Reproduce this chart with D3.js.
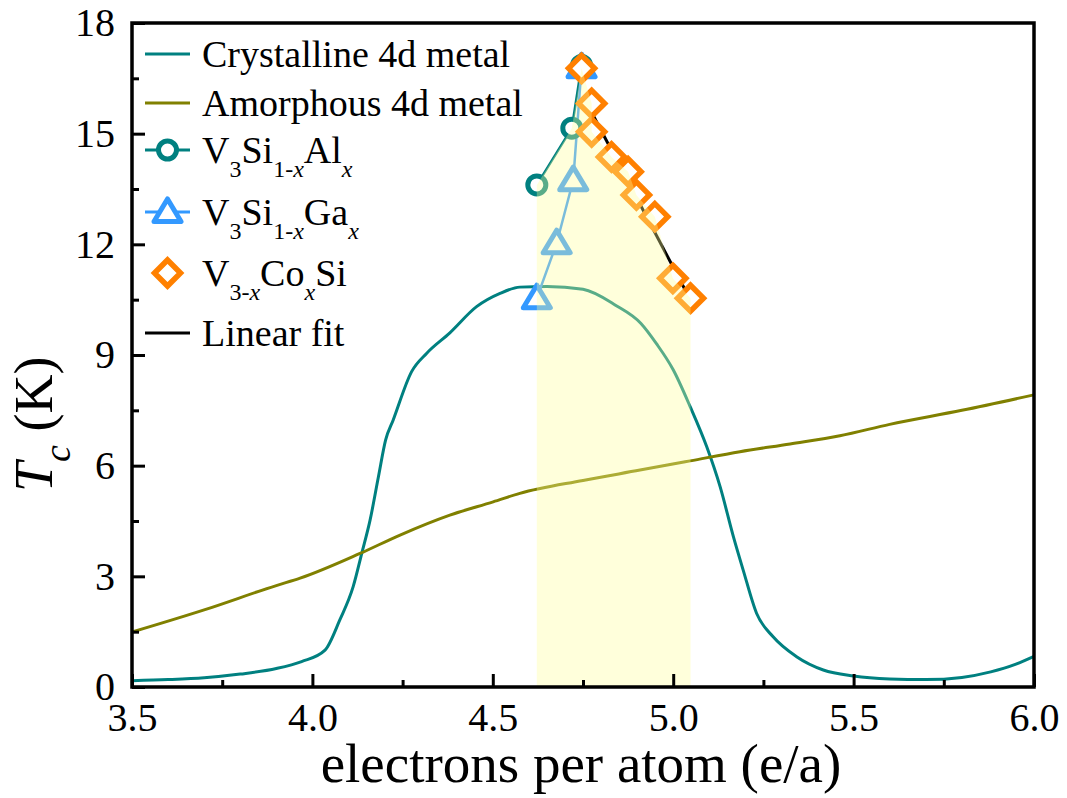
<!DOCTYPE html>
<html>
<head>
<meta charset="utf-8">
<script src="https://cdn.jsdelivr.net/npm/d3@7"></script>
<style>
  body { margin: 0; background: #fff; }
  svg text { font-family: "Liberation Serif", "Times New Roman", serif; fill: #000; }
</style>
</head>
<body>
<div id="chart"></div>
<script>
// crystalline 4d metal curve
var crystX = [3.5, 3.6, 3.7, 3.8, 3.9, 3.97, 4.035, 4.076, 4.113, 4.137, 4.16, 4.183, 4.203, 4.224, 4.275, 4.317, 4.381, 4.455, 4.52, 4.575, 4.65, 4.75, 4.84, 4.91, 4.954, 5.0, 5.047, 5.093, 5.13, 5.167, 5.194, 5.231, 5.277, 5.342, 5.416, 5.5, 5.6, 5.7, 5.8, 5.88, 5.95, 6.0];
var crystTc = [0.17, 0.2, 0.25, 0.35, 0.5, 0.69, 1.0, 1.82, 2.72, 3.63, 4.53, 5.7, 6.7, 7.24, 8.55, 9.05, 9.6, 10.31, 10.67, 10.84, 10.86, 10.78, 10.35, 9.86, 9.3, 8.6, 7.6, 6.51, 5.43, 4.07, 3.17, 2.0, 1.36, 0.82, 0.46, 0.3, 0.22, 0.2, 0.26, 0.41, 0.62, 0.83];

// amorphous 4d metal curve
var amorX = [3.5, 3.7, 3.9, 3.966, 4.132, 4.243, 4.381, 4.501, 4.575, 4.75, 4.908, 5.047, 5.185, 5.324, 5.462, 5.6, 5.8, 6.0];
var amorTc = [1.49, 2.09, 2.75, 2.95, 3.62, 4.12, 4.66, 5.02, 5.25, 5.6, 5.88, 6.13, 6.38, 6.59, 6.81, 7.12, 7.5, 7.92];

// V3Si(1-x)Al(x)
var alX = [4.622, 4.719, 4.746];
var alTc = [13.61, 15.15, 16.85];

// V3Si(1-x)Ga(x)
var gaX = [4.622, 4.677, 4.723, 4.746];
var gaTc = [10.54, 12.03, 13.74, 16.8];

// V(3-x)Co(x)Si
var coX = [4.746, 4.774, 4.774, 4.829, 4.875, 4.898, 4.949, 4.999, 5.048];
var coTc = [16.77, 15.82, 15.05, 14.37, 13.97, 13.34, 12.75, 11.08, 10.54];

// linear fit through the Co series
var fitX = [4.77, 5.05];
var fitTc = [15.65, 10.45];

var xTicks = [3.5, 4.0, 4.5, 5.0, 5.5, 6.0];
var xMinor = [3.75, 4.25, 4.75, 5.25, 5.75];
var yTicks = [0, 3, 6, 9, 12, 15, 18];
var yMinor = [1.5, 4.5, 7.5, 10.5, 13.5, 16.5];

var width = 1067, height = 798;
var margin = {left: 132, right: 33, top: 23, bottom: 111};
var pw = width - margin.left - margin.right,
    ph = height - margin.top - margin.bottom;

var teal = '#008080', olive = '#808000', blue = '#3399ff', orange = '#ff8000';
var serif = '"Liberation Serif", "Times New Roman", serif';

var svg = d3.select('#chart').append('svg')
  .attr('width', width)
  .attr('height', height);

var g = svg.append('g').attr('transform', 'translate(' + margin.left + ',' + margin.top + ')');

var x = d3.scaleLinear().domain([3.5, 6.0]).range([0, pw]);
var y = d3.scaleLinear().domain([0, 18]).range([ph, 0]);

function pairs(xs, ys) {
  return xs.map(function(v, i) { return [v, ys[i]]; });
}

var line = d3.line()
  .x(function(d) { return x(d[0]); })
  .y(function(d) { return y(d[1]); });

var smooth = d3.line()
  .x(function(d) { return x(d[0]); })
  .y(function(d) { return y(d[1]); })
  .curve(d3.curveMonotoneX);

var plot = g.append('g');

plot.append('path').datum(pairs(crystX, crystTc))
  .attr('d', smooth).attr('fill', 'none').attr('stroke', teal).attr('stroke-width', 3);
plot.append('path').datum(pairs(amorX, amorTc))
  .attr('d', smooth).attr('fill', 'none').attr('stroke', olive).attr('stroke-width', 3);

plot.append('path').datum(pairs(fitX, fitTc))
  .attr('d', line).attr('fill', 'none').attr('stroke', '#000').attr('stroke-width', 3);
plot.append('path').datum(pairs(alX, alTc))
  .attr('d', line).attr('fill', 'none').attr('stroke', teal).attr('stroke-width', 2.5);
plot.append('path').datum(pairs(gaX, gaTc))
  .attr('d', line).attr('fill', 'none').attr('stroke', blue).attr('stroke-width', 2.5);

var triPath = 'M0,-13L13.5,9.5L-13.5,9.5Z';
var diaPath = 'M0,-13L13,0L0,13L-13,0Z';

plot.selectAll('.tri').data(pairs(gaX, gaTc)).enter().append('path')
  .attr('transform', function(d) { return 'translate(' + x(d[0]) + ',' + y(d[1]) + ')'; })
  .attr('d', triPath).attr('fill', '#fff').attr('stroke', blue)
  .attr('stroke-width', 5).attr('stroke-linejoin', 'round');

plot.selectAll('.circ').data(pairs(alX, alTc)).enter().append('circle')
  .attr('cx', function(d) { return x(d[0]); })
  .attr('cy', function(d) { return y(d[1]); })
  .attr('r', 9).attr('fill', '#fff').attr('stroke', teal).attr('stroke-width', 5);

plot.selectAll('.dia').data(pairs(coX, coTc)).enter().append('path')
  .attr('transform', function(d) { return 'translate(' + x(d[0]) + ',' + y(d[1]) + ')'; })
  .attr('d', diaPath).attr('fill', '#fff').attr('stroke', orange)
  .attr('stroke-width', 5.5);

// shaded region under the data envelope, drawn on top
var shade = [[alX[0], 0]].concat(pairs(alX.slice(0, 2), alTc.slice(0, 2)))
  .concat(pairs(coX, coTc)).concat([[coX[coX.length - 1], 0]]);
plot.append('path').datum(shade)
  .attr('d', function(d) { return line(d) + 'Z'; })
  .attr('fill', '#ffff99').attr('fill-opacity', 0.35).attr('stroke', 'none');

// axes
var xAxis = d3.axisBottom(x).tickValues(xTicks).tickFormat(d3.format('.1f'))
  .tickSizeInner(-13).tickSizeOuter(0).tickPadding(16);
var xAxisMinor = d3.axisBottom(x).tickValues(xMinor).tickFormat('')
  .tickSizeInner(-7).tickSizeOuter(0);
var yAxis = d3.axisLeft(y).tickValues(yTicks).tickFormat(d3.format('d'))
  .tickSizeInner(-13).tickSizeOuter(0).tickPadding(17);
var yAxisMinor = d3.axisLeft(y).tickValues(yMinor).tickFormat('')
  .tickSizeInner(-7).tickSizeOuter(0);

function styleAxis(ax, minor) {
  ax.attr('font-family', null);
  ax.select('.domain').remove();
  ax.selectAll('line').attr('stroke', '#000').attr('stroke-width', 3);
  if (minor) ax.selectAll('text').remove();
  ax.selectAll('text').attr('font-size', 40).style('font-family', serif).attr('fill', '#000');
}

styleAxis(g.append('g').attr('transform', 'translate(0,' + ph + ')').call(xAxis), false);
styleAxis(g.append('g').attr('transform', 'translate(0,' + ph + ')').call(xAxisMinor), true);
styleAxis(g.append('g').call(yAxis), false);
styleAxis(g.append('g').call(yAxisMinor), true);

g.append('rect')
  .attr('x', 0).attr('y', 0).attr('width', pw).attr('height', ph)
  .attr('fill', 'none').attr('stroke', '#000').attr('stroke-width', 3.5);

// axis titles
svg.append('text')
  .attr('x', margin.left + pw / 2 - 2).attr('y', 782)
  .attr('text-anchor', 'middle').attr('font-size', 55)
  .text('electrons per atom (e/a)');

var yt = svg.append('text')
  .attr('transform', 'translate(52,492) rotate(-90)')
  .attr('font-size', 54);
yt.append('tspan').attr('font-style', 'italic').text('T');
yt.append('tspan').attr('font-style', 'italic').attr('font-size', 38).attr('dy', 18).text('c');
yt.append('tspan').attr('dy', -18).text(' (K)');

// legend
var legend = svg.append('g');
var lx0 = 145, lx1 = 190, tx = 202;

function legendText(cy, parts) {
  var t = legend.append('text').attr('x', tx).attr('y', cy + 13).attr('font-size', 38);
  var shift = 0;
  parts.forEach(function(p) {
    var s = t.append('tspan').text(p.t);
    var want = p.sub ? 14 : 0;
    s.attr('dy', want - shift);
    shift = want;
    if (p.sub) s.attr('font-size', 24);
    if (p.it) s.attr('font-style', 'italic');
  });
}

function legendLine(cy, color) {
  legend.append('line').attr('x1', lx0).attr('x2', lx1).attr('y1', cy).attr('y2', cy)
    .attr('stroke', color).attr('stroke-width', 3);
}

legendLine(54, teal);
legendText(54, [{t: 'Crystalline 4d metal'}]);

legendLine(103, olive);
legendText(103, [{t: 'Amorphous 4d metal'}]);

legendLine(150, teal);
legend.append('circle').attr('cx', (lx0 + lx1) / 2).attr('cy', 150).attr('r', 9)
  .attr('fill', '#fff').attr('stroke', teal).attr('stroke-width', 5);
legendText(150, [{t: 'V'}, {t: '3', sub: true}, {t: 'Si'}, {t: '1-', sub: true}, {t: 'x', sub: true, it: true}, {t: 'Al'}, {t: 'x', sub: true, it: true}]);

legendLine(212, blue);
legend.append('path').attr('transform', 'translate(' + (lx0 + lx1) / 2 + ',212)')
  .attr('d', triPath).attr('fill', '#fff').attr('stroke', blue)
  .attr('stroke-width', 5).attr('stroke-linejoin', 'round');
legendText(212, [{t: 'V'}, {t: '3', sub: true}, {t: 'Si'}, {t: '1-', sub: true}, {t: 'x', sub: true, it: true}, {t: 'Ga'}, {t: 'x', sub: true, it: true}]);

legend.append('path').attr('transform', 'translate(' + (lx0 + lx1) / 2 + ',273)')
  .attr('d', diaPath).attr('fill', '#fff').attr('stroke', orange).attr('stroke-width', 5.5);
legendText(273, [{t: 'V'}, {t: '3-', sub: true}, {t: 'x', sub: true, it: true}, {t: 'Co'}, {t: 'x', sub: true, it: true}, {t: 'Si'}]);

legendLine(333, '#000');
legendText(333, [{t: 'Linear fit'}]);
</script>
</body>
</html>
